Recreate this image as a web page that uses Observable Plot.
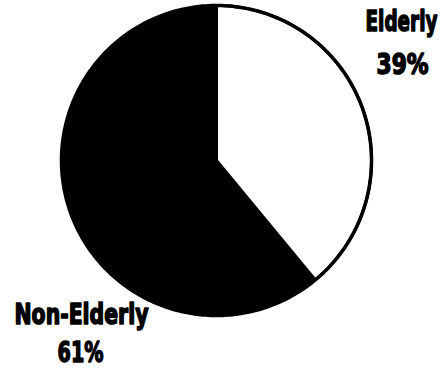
<!DOCTYPE html>
<html><head><meta charset="utf-8">
<script src="https://cdn.jsdelivr.net/npm/d3@7"></script>
<script src="https://cdn.jsdelivr.net/npm/@observablehq/plot@0.6"></script>
<style>body{margin:0;background:#fff}</style>
</head><body><div id="chart"></div>
<script>
const categories = ["Elderly", "Non-Elderly"];
const shares = [39, 61];
const labels = ["39%", "61%"];

const fills = {"Elderly": "white", "Non-Elderly": "black"};
const pie = d3.pie().sort(null).value(d => d.value)(categories.map((c, i) => ({cat: c, value: shares[i]})));
const pts = [];
for (const a of pie) {
  pts.push({cat: a.data.cat, x: 0, y: 0});
  const n = 200;
  for (let k = 0; k <= n; k++) {
    const t = a.startAngle + (a.endAngle - a.startAngle) * k / n;
    pts.push({cat: a.data.cat, x: Math.sin(t), y: Math.cos(t)});
  }
  pts.push({cat: a.data.cat, x: 0, y: 0});
}
const circle = d3.range(0, 361).map(k => ({x: Math.sin(k * Math.PI / 180), y: Math.cos(k * Math.PI / 180)}));
const R = 155, cx = 216, cy = 160;
const font = "'DejaVu Sans', sans-serif";
const lab = [
  {t: categories[0], x: (401 - cx) / R, y: (cy - 22) / R, w: 72},
  {t: labels[0], x: (402 - cx) / R, y: (cy - 65) / R, w: 52},
  {t: categories[1], x: (81 - cx) / R, y: (cy - 315) / R, w: 134},
  {t: labels[1], x: (80 - cx) / R, y: (cy - 353) / R, w: 46}
];
const chart = Plot.plot({
  width: 446, height: 370, margin: 0,
  x: {domain: [-cx / R, (446 - cx) / R], axis: null},
  y: {domain: [-(370 - cy) / R, cy / R], axis: null},
  marks: [
    Plot.line(pts.filter(d => d.cat === "Non-Elderly"), {x: "x", y: "y", fill: fills["Non-Elderly"], stroke: "black", strokeWidth: 1, curve: "linear"}),
    Plot.line(pts.filter(d => d.cat === "Elderly"), {x: "x", y: "y", fill: fills["Elderly"], stroke: "black", strokeWidth: 3, strokeLinejoin: "round", curve: "linear"}),
    Plot.line(circle, {x: "x", y: "y", stroke: "black", strokeWidth: 3.5}),
    Plot.text(lab, {x: "x", y: "y", text: "t", fontSize: 28, fontWeight: "bold", fontFamily: font, fill: "black", stroke: "black", strokeWidth: 1.6, textAnchor: "middle", className: "lbl"})
  ]
});
document.getElementById("chart").appendChild(chart);
d3.select(chart).selectAll("g.lbl text").each(function() {
  const item = lab.find(l => l.t === this.textContent);
  if (item) {
    const natural = this.getComputedTextLength();
    const s = item.w / natural;
    const tr = this.getAttribute("transform") || "";
    this.setAttribute("transform", (tr + ` scale(${s},1)`).trim());
  }
});
</script>
</body></html>
